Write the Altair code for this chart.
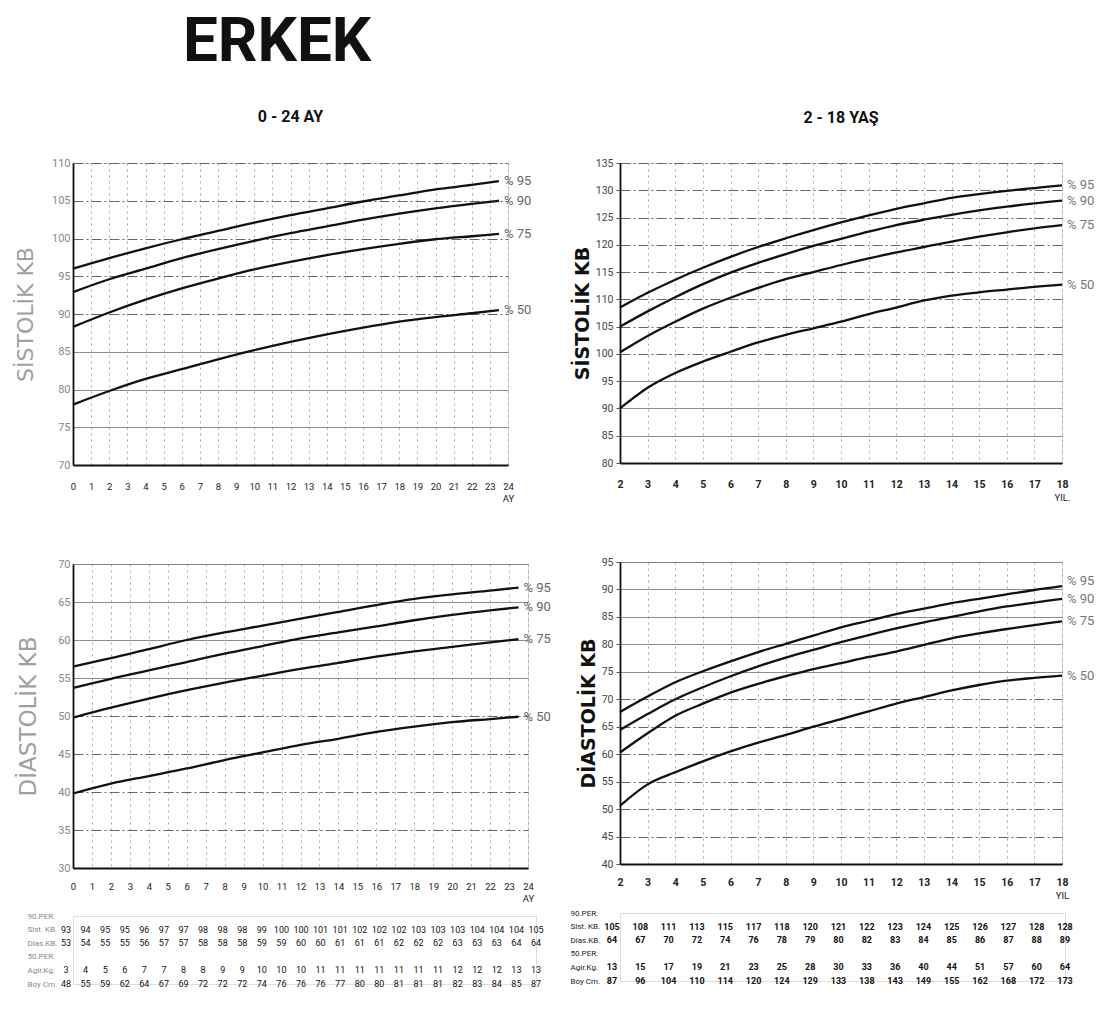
import altair as alt
import pandas as pd

FONT = "Roboto, Liberation Sans, sans-serif"
WIDE = "DejaVu Sans, Verdana, sans-serif"

# ------------------------------------------------------------------ data
PCT = ["% 95", "% 90", "% 75", "% 50"]

# 0-24 months (curves stop just before the 24 tick)
months = [0, 2, 4, 6, 8, 10, 12, 14, 16, 18, 20, 22, 23.5]
sys_inf_95 = [96.0, 97.4, 98.7, 99.9, 101.0, 102.1, 103.1, 104.0, 104.9, 105.7, 106.5, 107.1, 107.6]
sys_inf_90 = [92.9, 94.6, 96.0, 97.4, 98.6, 99.7, 100.7, 101.6, 102.5, 103.3, 104.0, 104.6, 105.0]
sys_inf_75 = [88.3, 90.2, 91.9, 93.4, 94.7, 95.9, 96.9, 97.8, 98.6, 99.3, 99.9, 100.3, 100.6]
sys_inf_50 = [78.0, 79.8, 81.4, 82.7, 84.0, 85.2, 86.3, 87.3, 88.2, 89.0, 89.6, 90.1, 90.5]

dia_inf_95 = [56.5, 57.6, 58.8, 60.0, 61.0, 61.9, 62.8, 63.7, 64.6, 65.4, 66.0, 66.5, 66.9]
dia_inf_90 = [53.7, 54.9, 56.0, 57.1, 58.2, 59.2, 60.2, 61.0, 61.8, 62.6, 63.3, 63.9, 64.3]
dia_inf_75 = [49.8, 51.1, 52.3, 53.4, 54.4, 55.3, 56.2, 57.0, 57.8, 58.5, 59.1, 59.7, 60.1]
dia_inf_50 = [39.8, 41.1, 42.1, 43.1, 44.2, 45.2, 46.2, 47.0, 47.9, 48.6, 49.2, 49.6, 49.9]

# 2-18 years
years = [2, 3, 4, 5, 6, 7, 8, 9, 10, 11, 12, 13, 14, 15, 16, 17, 18]
sys_ch_95 = [108.5, 111.2, 113.6, 115.8, 117.8, 119.6, 121.2, 122.7, 124.1, 125.4, 126.6, 127.6, 128.6, 129.3, 129.9, 130.4, 130.9]
sys_ch_90 = [105.0, 107.8, 110.4, 112.8, 114.9, 116.7, 118.3, 119.8, 121.1, 122.4, 123.6, 124.6, 125.5, 126.3, 127.0, 127.6, 128.1]
sys_ch_75 = [100.3, 103.3, 105.9, 108.3, 110.3, 112.1, 113.7, 115.0, 116.3, 117.5, 118.6, 119.6, 120.6, 121.5, 122.3, 123.0, 123.6]
sys_ch_50 = [90.0, 93.8, 96.5, 98.6, 100.4, 102.1, 103.5, 104.7, 105.9, 107.3, 108.5, 109.8, 110.7, 111.3, 111.8, 112.3, 112.7]

dia_ch_95 = [67.7, 70.5, 73.1, 75.1, 76.9, 78.6, 80.1, 81.6, 83.1, 84.3, 85.5, 86.5, 87.5, 88.3, 89.1, 89.9, 90.6]
dia_ch_90 = [64.4, 67.3, 70.0, 72.2, 74.2, 76.0, 77.6, 79.0, 80.4, 81.7, 82.9, 84.0, 85.0, 86.0, 86.9, 87.6, 88.3]
dia_ch_75 = [60.3, 63.8, 67.0, 69.2, 71.2, 72.8, 74.2, 75.5, 76.6, 77.7, 78.7, 79.9, 81.1, 82.0, 82.8, 83.5, 84.2]
dia_ch_50 = [50.6, 54.5, 56.7, 58.7, 60.5, 62.1, 63.5, 65.0, 66.4, 67.8, 69.2, 70.4, 71.6, 72.6, 73.4, 73.9, 74.3]

# axis ticks
month_ticks = list(range(0, 25))
year_ticks = list(range(2, 19))

# tables
row_names = ["90.PER.", "Sist. KB.", "Dias.KB.", "50.PER.", "Agir.Kg.", "Boy Cm."]
inf_sist90 = [93, 94, 95, 95, 96, 97, 97, 98, 98, 98, 99, 100, 100, 101, 101, 102, 102, 102, 103, 103, 103, 104, 104, 104, 105]
inf_dias90 = [53, 54, 55, 55, 56, 57, 57, 58, 58, 58, 59, 59, 60, 60, 61, 61, 61, 62, 62, 62, 63, 63, 63, 64, 64]
inf_agir50 = [3, 4, 5, 6, 7, 7, 8, 8, 9, 9, 10, 10, 10, 11, 11, 11, 11, 11, 11, 11, 12, 12, 12, 13, 13]
inf_boy50 = [48, 55, 59, 62, 64, 67, 69, 72, 72, 72, 74, 76, 76, 76, 77, 80, 80, 81, 81, 81, 82, 83, 84, 85, 87]

ch_sist90 = [105, 108, 111, 113, 115, 117, 118, 120, 121, 122, 123, 124, 125, 126, 127, 128, 128]
ch_dias90 = [64, 67, 70, 72, 74, 76, 78, 79, 80, 82, 83, 84, 85, 86, 87, 88, 89]
ch_agir50 = [13, 15, 17, 19, 21, 23, 25, 28, 30, 33, 36, 40, 44, 51, 57, 60, 64]
ch_boy50 = [87, 96, 104, 110, 114, 120, 124, 129, 133, 138, 143, 149, 155, 162, 168, 172, 173]


# ------------------------------------------------------------------ helpers
def long_df(xs, series):
    recs = []
    for name, vals in zip(PCT, series):
        for xv, yv in zip(xs, vals):
            recs.append({"x": xv, "y": yv, "pct": name})
    return pd.DataFrame(recs)


def panel(xs, series, xdom, xticks, ydom, yticks, solid_test, w, h, xtitle,
          ytitle, dark, title_pad, ytitle_size, title=None, xlabel_pad=16,
          lift_top=0):
    df = long_df(xs, series)
    last = df[df["x"] == xs[-1]]
    xsc = alt.Scale(domain=xdom, nice=False, zero=False)
    ysc = alt.Scale(domain=ydom, nice=False, zero=False)
    xaxis = alt.Axis(
        values=xticks, format="d", grid=True, gridColor="#a8a8a8",
        gridDash=[2, 4], gridWidth=1, domainColor="#111", domainWidth=2.2,
        ticks=False, labelPadding=xlabel_pad, labelFont=FONT,
        labelFontSize=10.5 if dark else 9.5, labelColor="#222",
        labelFontWeight="bold" if dark else "normal",
        labelFlush=False, labelOverlap=False,
        title=xtitle, titleAnchor="end", titleAlign="center",
        titleFont=FONT, titleFontSize=9.5, titleFontWeight="normal",
        titleColor="#222", titlePadding=3,
    )
    yaxis = alt.Axis(
        values=yticks, grid=True, gridColor="#666", gridWidth=1,
        gridDash={"condition": {"test": solid_test, "value": [1, 0]},
                  "value": [10, 3, 2, 3]},
        domainColor="#111", domainWidth=1.8,
        ticks=dark, tickSize=4, tickColor="#555",
        labelPadding=3, labelFont=FONT, labelFontSize=11 if not dark else 10.5,
        labelColor="#444" if dark else "#888",
        title=ytitle, titleFont=WIDE, titleFontSize=ytitle_size,
        titleFontWeight="bold" if dark else "normal",
        titleColor="#111" if dark else "#a0a0a0", titlePadding=title_pad,
    )
    x = alt.X("x:Q", scale=xsc, axis=xaxis)
    y = alt.Y("y:Q", scale=ysc, axis=yaxis)
    lines = alt.Chart(df).mark_line(
        color="#111", strokeWidth=2.3, interpolate="monotone"
    ).encode(x=x, y=y, detail="pct:N")
    lab_color = "#666" if not dark else "#777"
    top_lab = last[last["pct"] == PCT[0]]
    rest_lab = last[last["pct"] != PCT[0]]
    labels_top = alt.Chart(top_lab).mark_text(
        align="left", baseline="middle", dx=5, dy=-lift_top, font=FONT,
        fontSize=13, color=lab_color
    ).encode(x=x, y=y, text="pct:N")
    labels_rest = alt.Chart(rest_lab).mark_text(
        align="left", baseline="middle", dx=5, font=FONT, fontSize=13,
        color=lab_color
    ).encode(x=x, y=y, text="pct:N")
    ch = alt.layer(lines, labels_top, labels_rest).properties(width=w, height=h)
    if title is not None:
        ch = ch.properties(title=alt.TitleParams(
            title, font=FONT, fontSize=16, fontWeight="bold", color="#111",
            anchor="middle", offset=32))
    return ch


def table(rows, xdom, w, label_pad, label_color, bold):
    recs = []
    for rname, vals in rows:
        for i, v in enumerate(vals):
            recs.append({"col": i, "row": rname, "val": str(v)})
    df = pd.DataFrame(recs)
    return alt.Chart(df).mark_text(
        font=FONT, fontSize=9, color="#111",
        fontWeight="bold" if bold else "normal"
    ).encode(
        x=alt.X("col:Q", scale=alt.Scale(domain=xdom, nice=False, zero=False), axis=None),
        y=alt.Y("row:N", scale=alt.Scale(type="point", domain=row_names, padding=0),
                axis=alt.Axis(title=None, domain=False, ticks=False, tickSize=0,
                              grid=False, labelAlign="left", labelPadding=label_pad,
                              labelFont=FONT, labelFontSize=8,
                              labelColor=label_color)),
        text="val:N",
    ).properties(width=w, height=68)


# ------------------------------------------------------------------ panels
tl = panel(months, [sys_inf_95, sys_inf_90, sys_inf_75, sys_inf_50],
           [0, 24], month_ticks, [70, 110], list(range(70, 111, 5)),
           "datum.value <= 85", 435, 302, "AY", "SİSTOLİK KB", False, 14, 22,
           title="0 - 24 AY")
bl = panel(months, [dia_inf_95, dia_inf_90, dia_inf_75, dia_inf_50],
           [0, 24], month_ticks, [30, 70], list(range(30, 71, 5)),
           "datum.value >= 55", 455, 304, "AY", "DİASTOLİK KB", False, 17, 23,
           xlabel_pad=13)
tr = panel(years, [sys_ch_95, sys_ch_90, sys_ch_75, sys_ch_50],
           [2, 18], year_ticks, [80, 135], list(range(80, 136, 5)),
           "datum.value <= 95", 442, 300, "YIL.", "SİSTOLİK KB", True, 3, 19,
           title="2 - 18 YAŞ")
br = panel(years, [dia_ch_95, dia_ch_90, dia_ch_75, dia_ch_50],
           [2, 18], year_ticks, [40, 95], list(range(40, 96, 5)),
           "datum.value >= 75", 442, 302, "YIL", "DİASTOLİK KB", True, 3, 19,
           xlabel_pad=13, lift_top=5)

tbl_l = table([("Sist. KB.", inf_sist90), ("Dias.KB.", inf_dias90),
               ("Agir.Kg.", inf_agir50), ("Boy Cm.", inf_boy50)],
              [0.357, 24], 463, 46, "#888", False)
tbl_r = table([("Sist. KB.", ch_sist90), ("Dias.KB.", ch_dias90),
               ("Agir.Kg.", ch_agir50), ("Boy Cm.", ch_boy50)],
              [0.283, 16], 445, 50, "#222", True)

left_col = alt.vconcat(tl, alt.vconcat(bl, tbl_l, spacing=7), spacing=53)
right_col = alt.vconcat(tr, alt.vconcat(br, tbl_r, spacing=7), spacing=53)

chart = alt.hconcat(left_col, right_col, spacing=17).properties(
    title=alt.TitleParams("ERKEK", font=FONT, fontSize=62, fontWeight="bold",
                          color="#111", anchor="start", dx=169, dy=-6,
                          offset=29),
    padding={"left": 13, "top": 10, "right": 5, "bottom": 5},
).configure_view(stroke=None).configure(background="white")

chart.save("out.html", embed_options={"renderer": "svg", "actions": False})
